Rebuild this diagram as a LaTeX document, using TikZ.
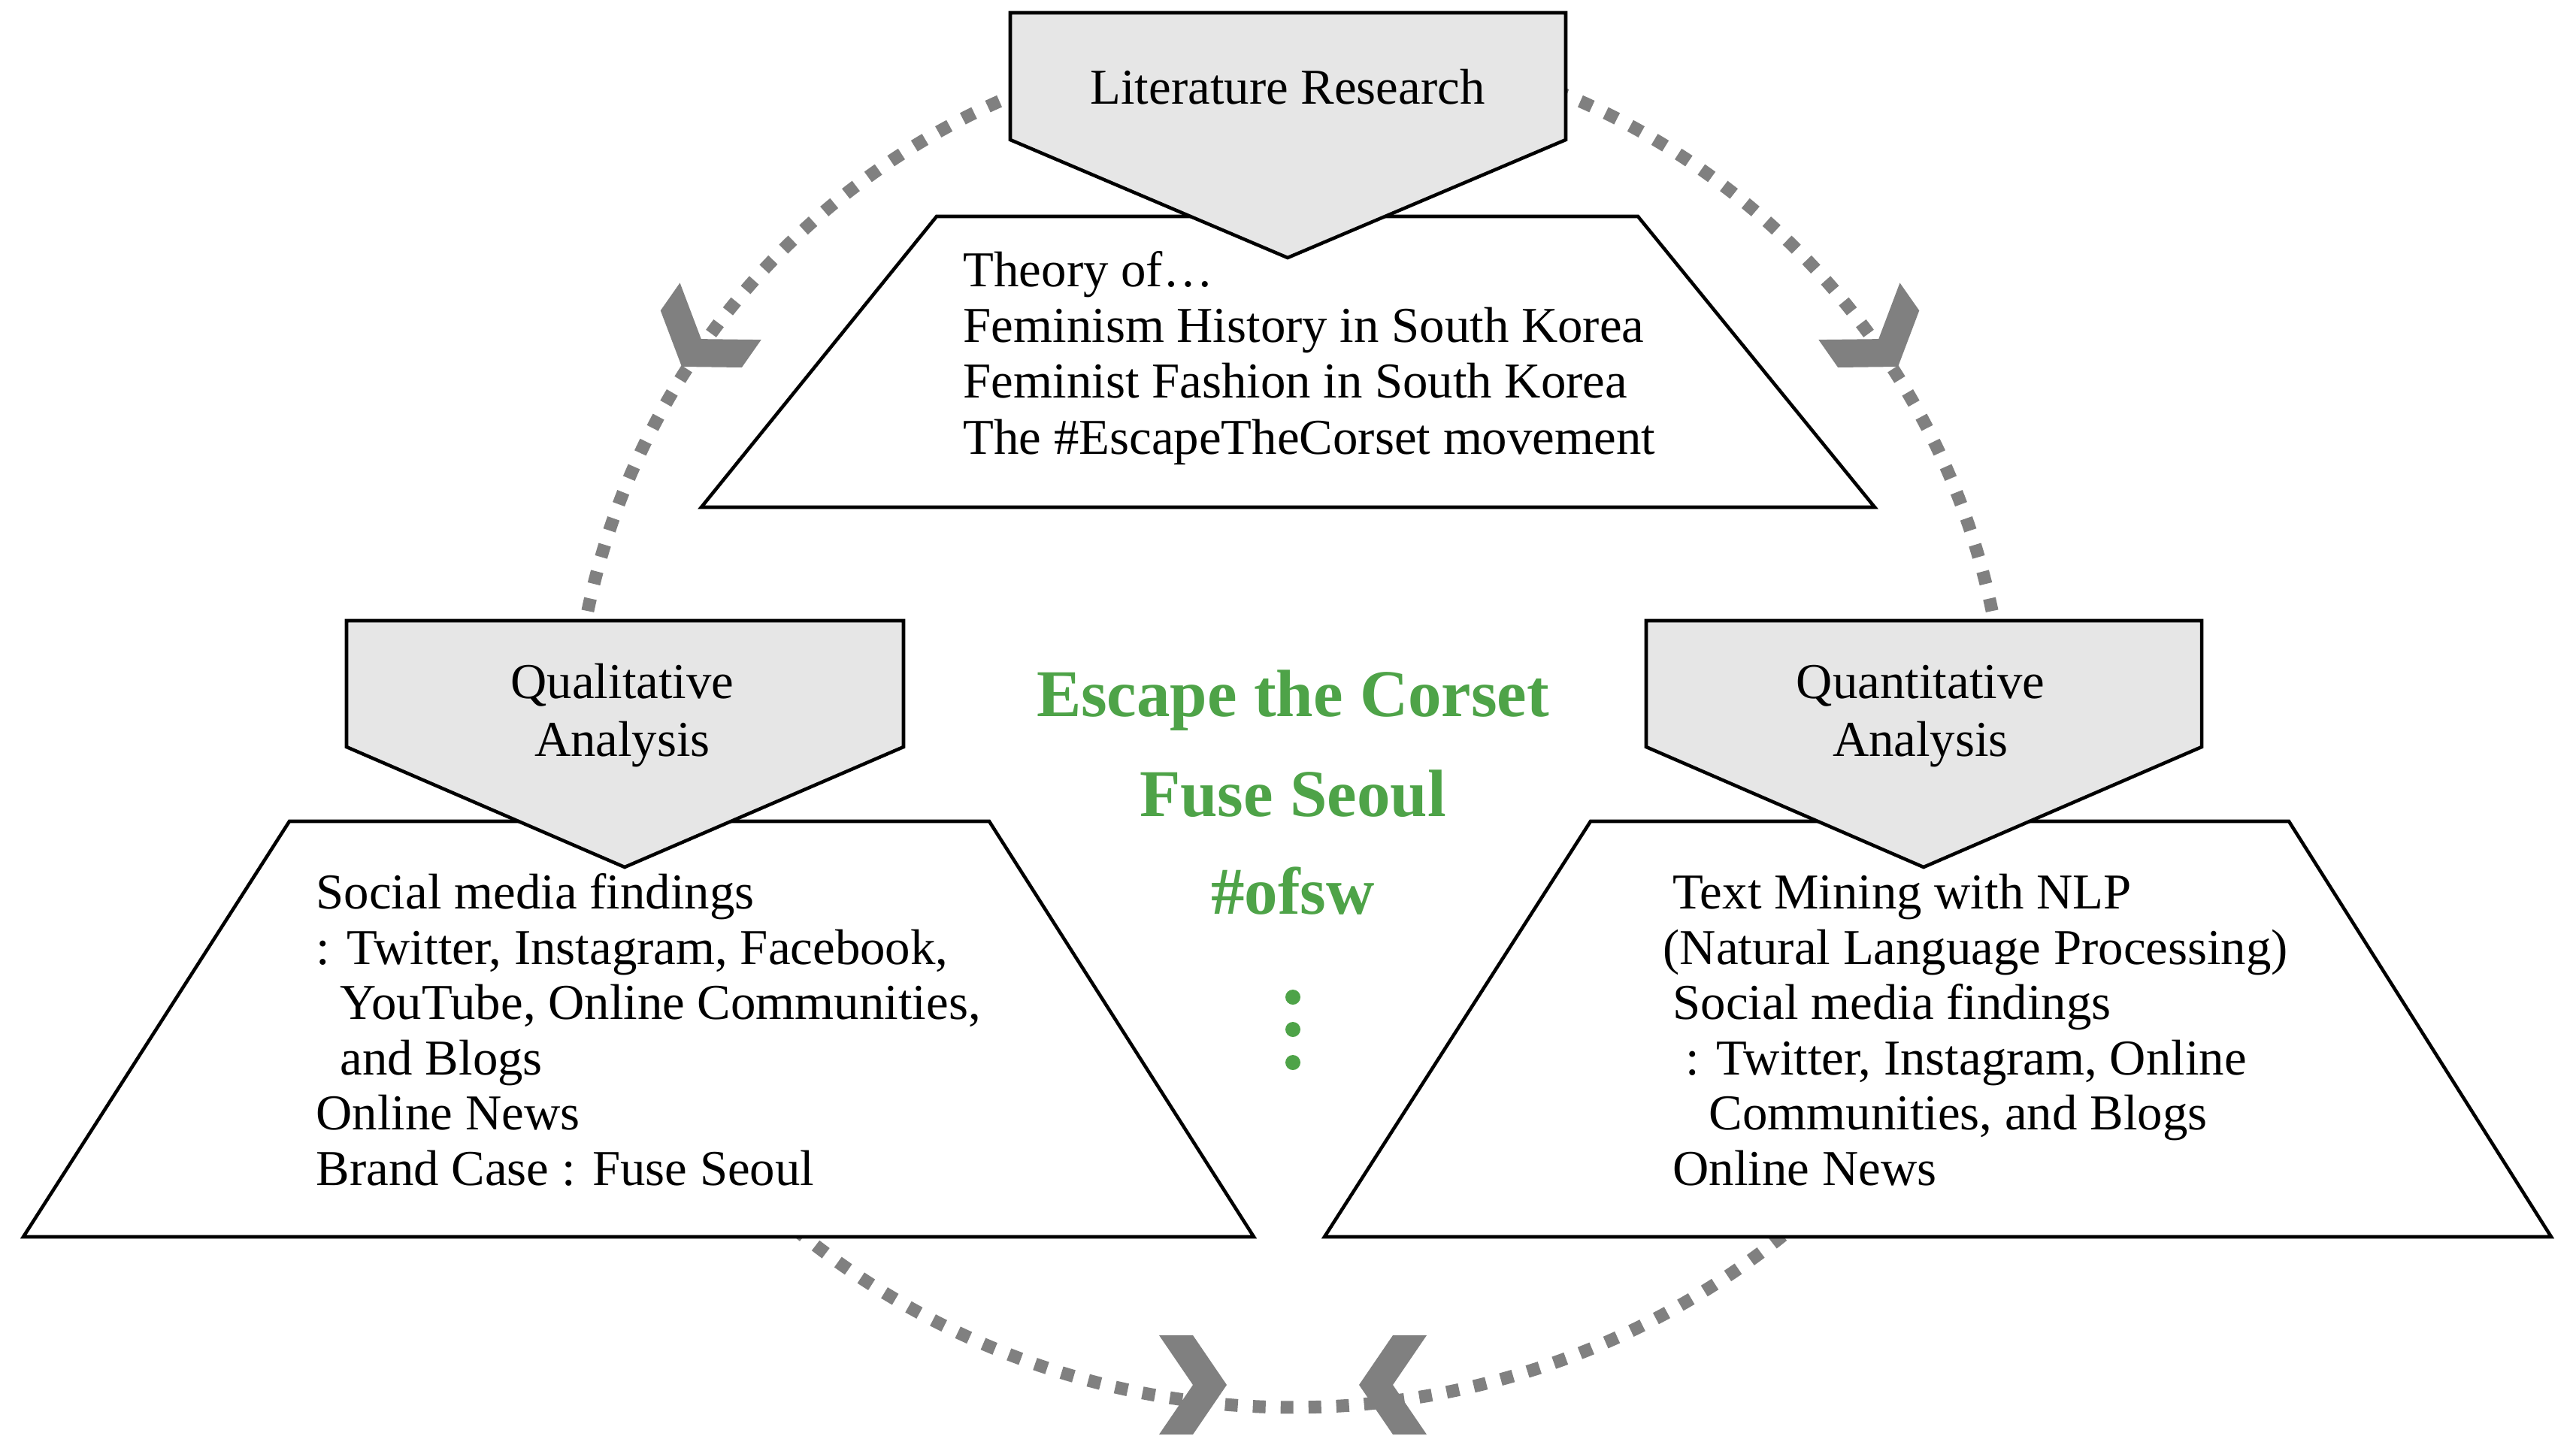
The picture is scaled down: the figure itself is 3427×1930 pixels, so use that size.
\documentclass[tikz,border=0pt]{standalone}
\usepackage{fontspec}
\setmainfont{Liberation Serif}
\usetikzlibrary{calc}
\definecolor{boxgray}{RGB}{230,230,230}
\definecolor{arcgray}{RGB}{128,128,128}
\definecolor{kgreen}{RGB}{78,163,72}
\begin{document}
\begin{tikzpicture}[x=0.01cm,y=-0.01cm,
  boxline/.style={draw=black,line width=1.3pt,line join=miter},
  pent/.style={boxline,fill=boxgray},
  trap/.style={boxline,fill=white},
  dotarc/.style={draw=arcgray,line width=0.17cm,dash pattern=on 0.17cm off 0.2cm},
  chev/.style={fill=arcgray,draw=none},
  body/.style={font=\fontsize{19}{22}\selectfont,inner sep=0pt,anchor=base west},
  ctext/.style={font=\fontsize{19}{22}\selectfont,inner sep=0pt,anchor=base},
  greentxt/.style={font=\fontsize{25.3}{30}\selectfont\bfseries,text=kgreen,inner sep=0pt,anchor=base},
  gdot/.style={fill=kgreen,draw=none}
]
\useasboundingbox (0,0) rectangle (3427,1930);

% centres of the dotted cycle
\coordinate (c1) at (1716,1007);
\coordinate (c2) at (1720,830);

% dotted connectors
\coordinate (tl0) at ($(c1)+(255:954)$);
\coordinate (tr0) at ($(c1)+(285:954)$);
\coordinate (b0) at ($(c2)+(133.6:1043)$);
\draw[dotarc] (tl0) arc[start angle=255,end angle=185,radius=954];
\draw[dotarc] (tr0) arc[start angle=285,end angle=355,radius=954];
\draw[dotarc] (b0) arc[start angle=133.6,end angle=46.4,radius=1043];

% chevron arrow heads
\fill[chev,shift={(907,488)},rotate=235] (0,0)--(-45,66)--(-90,66)--(-45,0)--(-90,-66)--(-45,-66)--cycle;
\fill[chev,shift={(2525,488)},rotate=-55] (0,0)--(-45,66)--(-90,66)--(-45,0)--(-90,-66)--(-45,-66)--cycle;
\fill[chev,shift={(1632,1843)},rotate=0] (0,0)--(-45,66)--(-90,66)--(-45,0)--(-90,-66)--(-45,-66)--cycle;
\fill[chev,shift={(1808,1843)},rotate=180] (0,0)--(-45,66)--(-90,66)--(-45,0)--(-90,-66)--(-45,-66)--cycle;

% trapezoids
\path[trap] (1246,288) -- (2179,288) -- (2494,675) -- (933,675) -- cycle;
\path[trap] (385,1093) -- (1316,1093) -- (1668,1646) -- (31,1646) -- cycle;
\path[trap] (2116,1093) -- (3045,1093) -- (3394,1646) -- (1762,1646) -- cycle;

% pentagon headers
\path[pent] (1344,17) -- (2083,17) -- (2083,186) -- (1713,343) -- (1344,186) -- cycle;
\path[pent] (461,826) -- (1202,826) -- (1202,994) -- (831,1154) -- (461,994) -- cycle;
\path[pent] (2190,826) -- (2929,826) -- (2929,994) -- (2559,1154) -- (2190,994) -- cycle;

% header labels
\node[ctext] (lit) at (1713,138) {Literature Research};
\node[ctext] (qual1) at (828,929) {Qualitative};
\node[ctext] (qual2) at (828,1006) {Analysis};
\node[ctext] (quan1) at (2555,929) {Quantitative};
\node[ctext] (quan2) at (2555,1006) {Analysis};

% top trapezoid text
\node[body] (t1) at (1281,381) {Theory of…};
\node[body] (t2) at (1281,455) {Feminism History in South Korea};
\node[body] (t3) at (1281,529) {Feminist Fashion in South Korea};
\node[body] (t4) at (1281,604) {The \#EscapeTheCorset movement};

% left trapezoid text
\node[body] (l1) at (420,1209) {Social media findings};
\node[body] (l2) at (420,1283) {: Twitter, Instagram, Facebook,};
\node[body] (l3) at (452,1356) {YouTube, Online Communities,};
\node[body] (l4) at (452,1430) {and Blogs};
\node[body] (l5) at (420,1503) {Online News};
\node[body] (l6) at (420,1577) {Brand Case : Fuse Seoul};

% right trapezoid text
\node[body] (r1) at (2225,1209) {Text Mining with NLP};
\node[body] (r2) at (2212,1283) {(Natural Language Processing)};
\node[body] (r3) at (2225,1356) {Social media findings};
\node[body] (r4) at (2242,1430) {: Twitter, Instagram, Online};
\node[body] (r5) at (2273,1503) {Communities, and Blogs};
\node[body] (r6) at (2225,1577) {Online News};

% centre green text
\node[greentxt] (g1) at (1720,953) {Escape the Corset};
\node[greentxt] (g2) at (1720,1086) {Fuse Seoul};
\node[greentxt] (g3) at (1720,1216) {\#ofsw};
\fill[gdot] (1720,1327) circle[radius=10];
\fill[gdot] (1720,1370) circle[radius=10];
\fill[gdot] (1720,1414) circle[radius=10];
\end{tikzpicture}
\end{document}
